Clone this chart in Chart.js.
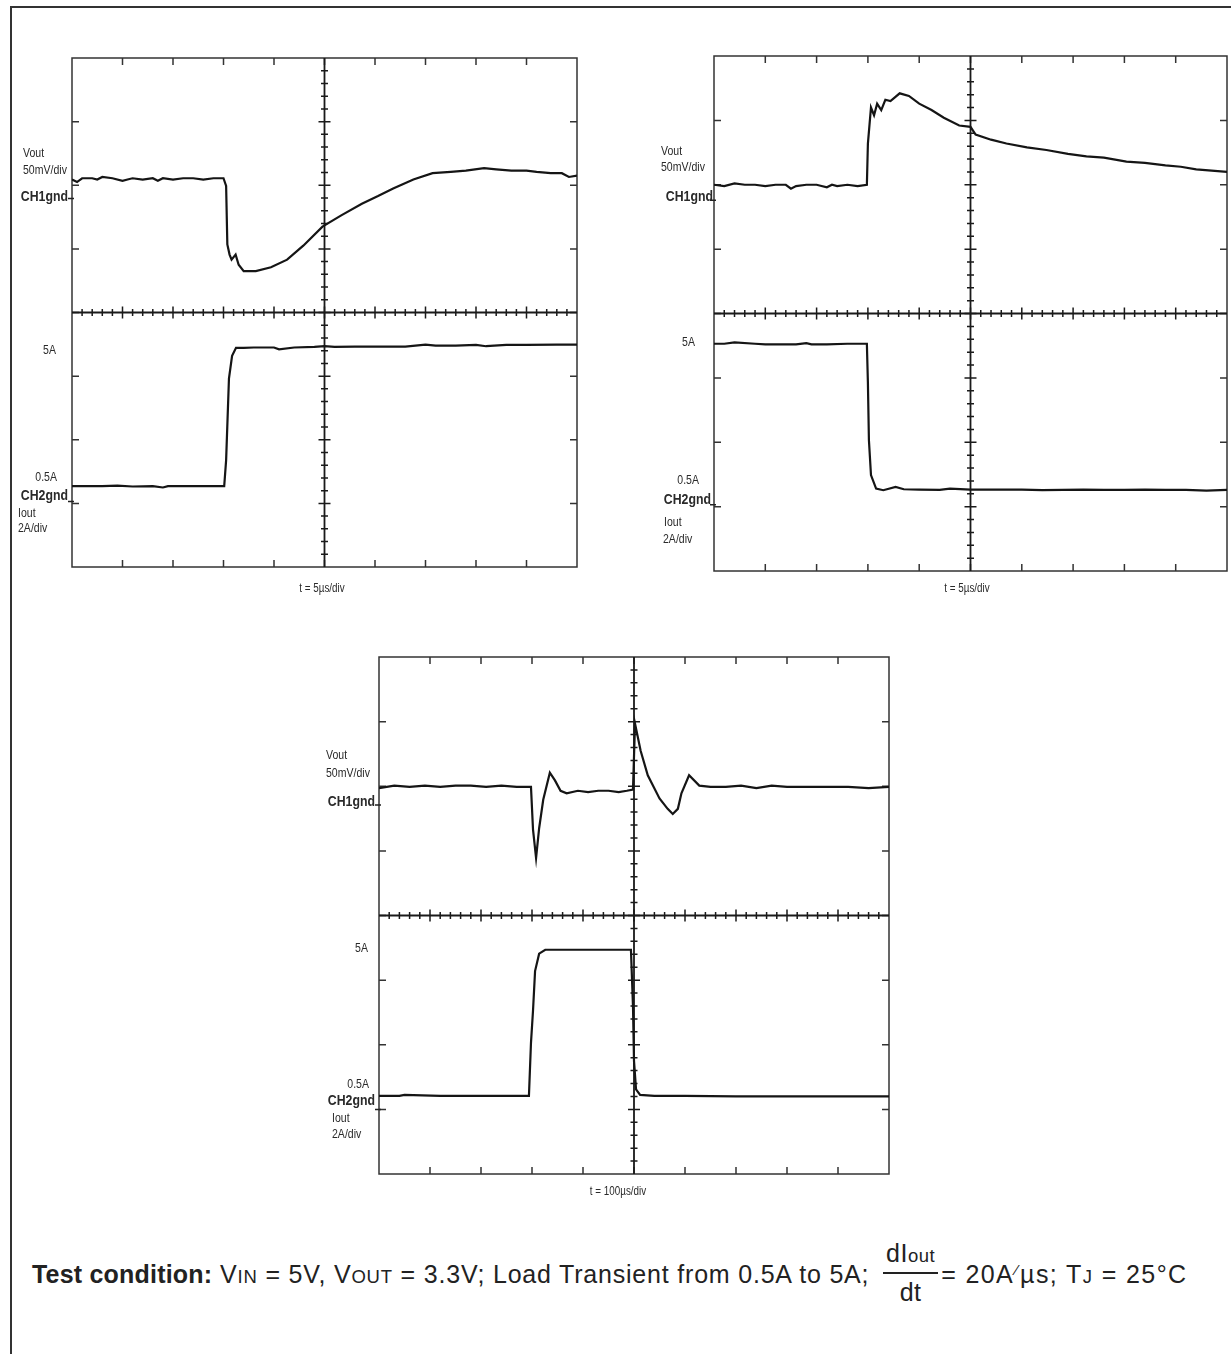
<!DOCTYPE html>
<html>

<head>
    <meta charset="UTF-8">
    <title>Load Transient</title>
    <script src="https://cdn.jsdelivr.net/npm/chart.js"></script>
    <style>
        body { margin: 0; background: #fff; width: 1231px; height: 1354px; overflow: hidden; position: relative; font-family: "Liberation Sans", Arial, sans-serif; }
        #frame { position: absolute; left: 10px; top: 6px; width: 1240px; height: 1400px; border: 2px solid #333; }
        canvas { position: absolute; }
        #p1 { left: 12px; top: 20px; }
        #p2 { left: 640px; top: 20px; }
        #p3 { left: 300px; top: 620px; }
        #cond { position: absolute; left: 32px; top: 1237px; font-size: 25px; color: #222; white-space: nowrap; line-height: 30px; letter-spacing: 0.8px; }
        #cond b { letter-spacing: 0.2px; }
        #cond .s { font-size: 0.74em; }
        #cond .frac { display: inline-block; vertical-align: -18px; text-align: center; margin: 0 3px 0 6px; letter-spacing: 0.5px; }
        #cond .num { display: block; line-height: 33px; padding: 0 3px; }
        #cond .bar { display: block; border-top: 2.5px solid #222; }
        #cond .den { display: block; line-height: 37px; }
        #cond .sl { font-size: 0.6em; vertical-align: 0.55em; margin: 0 1px; }
        #cond .tail { letter-spacing: 1.4px; }
    </style>
</head>

<body>
    <div id="frame"></div>
    <canvas id="p1" width="590" height="600"></canvas>
    <canvas id="p2" width="591" height="600"></canvas>
    <canvas id="p3" width="620" height="600"></canvas>
    <div id="cond"><b>Test condition:</b> V<span class="s">IN</span> = 5V, V<span class="s">OUT</span> = 3.3V; Load Transient from 0.5A to 5A; <span class="frac"><span class="num">dI<span class="s">out</span></span><span class="bar"></span><span class="den">dt</span></span><span class="tail">= 20A<span class="sl">⁄</span>µs; T<span class="s">J</span> = 25°C</span></div>

    <script>
        // scope panel 1: load step 0.5A -> 5A, 5 us/div
        var p1VoutT = [0, 0.5, 1, 2, 2.5, 3, 4, 5, 5.5, 6, 7, 8, 8.5, 9, 10, 11, 12, 13, 14, 15, 15.26, 15.38, 15.6, 15.8, 16.2, 16.5, 17.0, 18.2, 19.7, 21.3, 22.9, 24.8, 26.7, 28.7, 30.3, 31.8, 33.8, 35.7, 37.5, 39.0, 40.8, 42.0, 43.5, 45.0, 46.0, 47.4, 48.5, 49.2, 50];
        var p1VoutMv = [15, 13, 16, 16, 15, 17, 16, 14, 15, 16, 15, 16, 14, 16, 15, 16, 16, 15, 16, 16, 10, -36, -44, -48, -44, -52, -57, -57, -54, -48, -37, -22, -13, -4, 2, 8, 15, 20, 21, 22, 24, 23, 22, 22, 21, 20, 20, 17, 18];
        var p1IoutT = [0, 3, 4.5, 6, 8, 9, 9.5, 12, 14.5, 15.07, 15.26, 15.54, 15.85, 16.24, 17, 18, 20, 20.5, 22, 24, 25, 26, 28, 30, 33, 35, 36, 38, 40, 41, 43, 45, 48, 50];
        var p1IoutA = [0.48, 0.48, 0.5, 0.47, 0.48, 0.44, 0.48, 0.48, 0.48, 0.48, 1.3, 3.86, 4.58, 4.83, 4.83, 4.84, 4.84, 4.78, 4.84, 4.86, 4.88, 4.86, 4.87, 4.87, 4.87, 4.93, 4.9, 4.9, 4.92, 4.88, 4.92, 4.92, 4.93, 4.93];

        // scope panel 2: load step 5A -> 0.5A, 5 us/div
        var p2VoutT = [0, 1, 2, 3, 4, 5, 6, 7, 7.5, 8, 9, 10, 11, 11.5, 12, 13, 14, 14.9, 15.0, 15.3, 15.6, 15.9, 16.3, 16.7, 17.2, 18.1, 19.0, 20.0, 21.2, 22.4, 23.9, 25.0, 25.5, 27.0, 28.5, 30.5, 32.4, 34.5, 36.3, 38.0, 40.2, 42.0, 44.0, 45.5, 47.0, 48.5, 50];
        var p2VoutMv = [12, 11, 13, 12, 12, 11, 12, 12, 9, 11, 12, 12, 10, 12, 11, 12, 11, 12, 44, 72, 66, 75, 70, 78, 77, 83, 81, 75, 70, 64, 58, 57, 51, 47, 44, 41, 39, 36, 34, 33, 30, 29, 27, 26, 24, 23, 22];
        var p2IoutT = [0, 1, 2, 4, 5, 6, 8, 9, 9.5, 11, 13, 14.9, 15.0, 15.1, 15.3, 15.8, 16.5, 17.7, 18.5, 20, 22, 23, 25, 27, 30, 32, 34, 36, 38, 40, 42, 44, 46, 48, 50];
        var p2IoutA = [5.0, 5.0, 5.04, 5.0, 4.98, 4.98, 4.98, 5.02, 4.98, 4.98, 5.0, 5.0, 3.8, 2.0, 0.92, 0.5, 0.45, 0.55, 0.48, 0.47, 0.46, 0.5, 0.47, 0.47, 0.47, 0.45, 0.46, 0.47, 0.46, 0.46, 0.47, 0.46, 0.46, 0.44, 0.46];

        // scope panel 3: both edges, 100 us/div
        var p3VoutT = [0, 15, 30, 45, 60, 75, 90, 105, 120, 135, 149, 151, 154, 157, 161, 167.5, 172.5, 178, 184, 195, 205, 215, 225, 235, 243, 249, 251, 256.5, 263.5, 275, 283, 288, 293, 296.5, 304, 314, 325, 340, 355, 370, 385, 400, 420, 440, 460, 480, 500];
        var p3VoutMv = [13, 15, 14, 15, 14, 15, 15, 14, 15, 14, 14, -19, -41, -18, 4, 25, 19, 11, 9, 11, 10, 11, 11, 10, 11, 12, 63, 42, 23, 5, -3, -7, -3, 9, 23, 15, 14, 14, 15, 13, 15, 14, 14, 14, 14, 13, 14];
        var p3IoutT = [0, 20, 25, 60, 100, 147, 149, 151, 153, 157, 163, 200, 247, 249, 250, 252, 256, 270, 300, 350, 400, 450, 500];
        var p3IoutA = [0.42, 0.42, 0.45, 0.42, 0.42, 0.42, 2.06, 3.06, 4.28, 4.82, 4.94, 4.94, 4.94, 3.2, 1.5, 0.62, 0.45, 0.42, 0.42, 0.4, 0.4, 0.4, 0.4];

        var VOLT_PER_DIV = 50;  // mV
        var AMP_PER_DIV = 2;    // A
        var FONT = '"Liberation Sans", Arial, sans-serif';

        var panels = [
            {
                id: 'p1', tMax: 50, ch1Gnd: 5.79, ch2Gnd: 1.03,
                pad: { left: 60, top: 38, right: 25, bottom: 53 },
                vt: p1VoutT, vv: p1VoutMv, it: p1IoutT, iv: p1IoutA,
                title: 't = 5µs/div', titleDx: 250, titleDy: 22,
                labels: [['Vout', -49, 95, 'left'], ['50mV/div', -49, 112, 'left'], ['CH1gnd', -4, 139, 'right', 1],
                    ['5A', -16, 292, 'right'], ['0.5A', -15, 419, 'right'], ['CH2gnd', -4, 437.5, 'right', 1],
                    ['Iout', -54, 455, 'left'], ['2A/div', -54, 470, 'left']]
            },
            {
                id: 'p2', tMax: 50, ch1Gnd: 5.76, ch2Gnd: 1.03,
                pad: { left: 74, top: 36, right: 4, bottom: 49 },
                vt: p2VoutT, vv: p2VoutMv, it: p2IoutT, iv: p2IoutA,
                title: 't = 5µs/div', titleDx: 253, titleDy: 18,
                labels: [['Vout', -53, 95, 'left'], ['50mV/div', -53, 111, 'left'], ['CH1gnd', -1, 141, 'right', 1],
                    ['5A', -19, 286.5, 'right'], ['0.5A', -15, 424, 'right'], ['CH2gnd', -3, 443.5, 'right', 1],
                    ['Iout', -50, 466, 'left'], ['2A/div', -51, 483, 'left']]
            },
            {
                id: 'p3', tMax: 500, ch1Gnd: 5.71, ch2Gnd: 1.0,
                pad: { left: 79, top: 37, right: 31, bottom: 46 },
                vt: p3VoutT, vv: p3VoutMv, it: p3IoutT, iv: p3IoutA,
                title: 't = 100µs/div', titleDx: 239, titleDy: 18,
                labels: [['Vout', -53, 98.5, 'left'], ['50mV/div', -53, 116, 'left'], ['CH1gnd', -4, 144.5, 'right', 1],
                    ['5A', -11, 291, 'right'], ['0.5A', -10, 427.5, 'right'], ['CH2gnd', -4, 444, 'right', 1],
                    ['Iout', -47, 461, 'left'], ['2A/div', -47, 477, 'left']]
            }
        ];

        function squeezeText(ctx, text, x, y, align, font, sx) {
            ctx.save();
            ctx.font = font;
            ctx.textBaseline = 'middle';
            ctx.textAlign = align;
            ctx.translate(x, y);
            ctx.scale(sx, 1);
            ctx.fillText(text, 0, 0);
            ctx.restore();
        }

        // scope graticule: frame, edge ticks and centre cross with minor ticks
        var graticule = {
            id: 'graticule',
            beforeDatasetsDraw: function (chart) {
                var ctx = chart.ctx, a = chart.chartArea;
                var xs = chart.scales.x, ys = chart.scales.yd;
                var step = chart.options.scales.x.max / 10;
                ctx.save();
                ctx.strokeStyle = '#333';
                ctx.lineWidth = 1.5;
                ctx.strokeRect(a.left, a.top, a.right - a.left, a.bottom - a.top);
                ctx.beginPath();
                for (var i = 1; i < 10; i++) {
                    var px = xs.getPixelForValue(i * step);
                    ctx.moveTo(px, a.top); ctx.lineTo(px, a.top + 7);
                    ctx.moveTo(px, a.bottom); ctx.lineTo(px, a.bottom - 7);
                }
                for (var j = 1; j < 8; j++) {
                    var py = ys.getPixelForValue(j);
                    ctx.moveTo(a.left, py); ctx.lineTo(a.left + 7, py);
                    ctx.moveTo(a.right, py); ctx.lineTo(a.right - 7, py);
                }
                ctx.stroke();
                // centre cross
                var cx = xs.getPixelForValue(5 * step), cy = ys.getPixelForValue(4);
                ctx.strokeStyle = '#1a1a1a';
                ctx.lineWidth = 1.8;
                ctx.beginPath();
                ctx.moveTo(a.left, cy); ctx.lineTo(a.right, cy);
                ctx.moveTo(cx, a.top); ctx.lineTo(cx, a.bottom);
                ctx.stroke();
                ctx.lineWidth = 1.5;
                ctx.beginPath();
                for (var k = 1; k < 50; k++) {
                    var mx = xs.getPixelForValue(k * step / 5);
                    var h = k % 5 === 0 ? 6 : 3.5;
                    ctx.moveTo(mx, cy - h); ctx.lineTo(mx, cy + h);
                }
                for (var m = 1; m < 40; m++) {
                    var my = ys.getPixelForValue(m / 5);
                    var w = m % 5 === 0 ? 6 : 3.5;
                    ctx.moveTo(cx - w, my); ctx.lineTo(cx + w, my);
                }
                ctx.stroke();
                ctx.restore();
            },
            afterDraw: function (chart) {
                var p = chart.options.plugins.graticule;
                var ctx = chart.ctx, a = chart.chartArea;
                ctx.save();
                ctx.fillStyle = '#2a2a2a';
                p.labels.forEach(function (l) {
                    var font = l[4] ? '600 15px ' + FONT : '13px ' + FONT;
                    squeezeText(ctx, l[0], a.left + l[1], a.top + l[2], l[3], font, l[4] ? 0.82 : 0.81);
                });
                // ground markers
                ctx.strokeStyle = '#222';
                ctx.lineWidth = 1.5;
                ctx.beginPath();
                var g1 = chart.scales.yv.getPixelForValue(0), g2 = chart.scales.yi.getPixelForValue(0);
                ctx.moveTo(a.left - 4, g1); ctx.lineTo(a.left + 2, g1);
                ctx.moveTo(a.left - 4, g2); ctx.lineTo(a.left + 2, g2);
                ctx.stroke();
                squeezeText(ctx, p.title, a.left + p.titleDx, a.bottom + p.titleDy, 'center', '12px ' + FONT, 0.82);
                ctx.restore();
            }
        };

        panels.forEach(function (p) {
            var vData = p.vt.map(function (t, i) { return { x: t, y: p.vv[i] }; });
            var iData = p.it.map(function (t, i) { return { x: t, y: p.iv[i] }; });
            new Chart(document.getElementById(p.id), {
                type: 'line',
                data: {
                    datasets: [
                        { label: 'Vout', data: vData, yAxisID: 'yv', borderColor: '#151515', borderWidth: 2.2, pointRadius: 0, tension: 0 },
                        { label: 'Iout', data: iData, yAxisID: 'yi', borderColor: '#151515', borderWidth: 2.2, pointRadius: 0, tension: 0 }
                    ]
                },
                options: {
                    responsive: false,
                    animation: false,
                    layout: { padding: p.pad },
                    plugins: {
                        legend: { display: false },
                        tooltip: { enabled: false },
                        graticule: { labels: p.labels, title: p.title, titleDx: p.titleDx, titleDy: p.titleDy }
                    },
                    scales: {
                        x: { type: 'linear', min: 0, max: p.tMax, display: false },
                        yd: { type: 'linear', min: 0, max: 8, display: false },
                        yv: { type: 'linear', min: -p.ch1Gnd * VOLT_PER_DIV, max: (8 - p.ch1Gnd) * VOLT_PER_DIV, display: false },
                        yi: { type: 'linear', min: -p.ch2Gnd * AMP_PER_DIV, max: (8 - p.ch2Gnd) * AMP_PER_DIV, display: false }
                    }
                },
                plugins: [graticule]
            });
        });
    </script>
</body>

</html>
